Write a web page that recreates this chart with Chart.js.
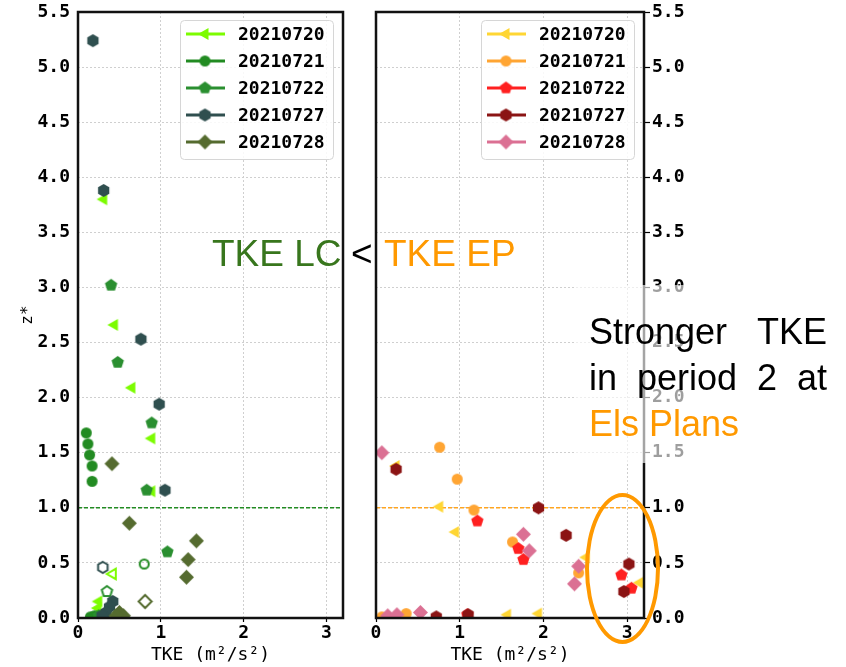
<!DOCTYPE html>
<html>
<head>
<meta charset="utf-8">
<script src="https://cdn.jsdelivr.net/npm/chart.js@4"></script>
<style>
  body { margin:0; background:#fff; width:846px; height:667px; position:relative; overflow:hidden; }
  canvas { position:absolute; top:0; }
  #left { left:0; }
  #right { left:360px; }
  .note { position:absolute; font-family:"Liberation Sans", Arial, sans-serif; white-space:nowrap; line-height:1; }
  .blk { position:absolute; font-family:"Liberation Sans", Arial, sans-serif; font-size:36px; line-height:46px; left:589px; width:238px; white-space:nowrap; }
  .just { text-align:justify; text-align-last:justify; white-space:normal; }
</style>
</head>
<body>
<canvas id="left" width="350" height="667"></canvas>
<canvas id="right" width="340" height="667"></canvas>

<div style="position:absolute;left:575px;top:285px;width:271px;height:178px;background:rgba(255,255,255,0.62)"></div>
<div class="note" style="left:212px;top:235px;font-size:37px;color:#38761D">TKE LC</div>
<div class="note" style="left:351px;top:235px;font-size:37px;color:#000">&lt;</div>
<div class="note" style="left:384px;top:235px;font-size:37px;color:#FF9900">TKE EP</div>
<div class="blk just" style="top:309px;color:#000">Stronger TKE</div>
<div class="blk just" style="top:355px;color:#000">in period 2 at</div>
<div class="blk" style="top:401px;color:#FF9900">Els Plans</div>
<div style="position:absolute;left:585px;top:493px;width:75px;height:151px;box-sizing:border-box;border:4px solid #FF9900;border-radius:50%"></div>

<script>
// ---- data: TKE (m2/s2) vs z*, La Cendrosa (left) and Els Plans (right) ----
const dates = ['20210720', '20210721', '20210722', '20210727', '20210728'];
const xTicks = [0, 1, 2, 3];
const yTicks = [0, 0.5, 1, 1.5, 2, 2.5, 3, 3.5, 4, 4.5, 5, 5.5];
const refLevel = 1.0;

// left panel (LC), open = index of hollow marker
const lc20x = [0.31, 0.44, 0.65, 0.89, 0.89, 0.42, 0.25, 0.24];
const lc20y = [3.80, 2.66, 2.09, 1.63, 1.15, 0.40, 0.15, 0.09];
const lc21x = [0.10, 0.12, 0.14, 0.17, 0.17, 0.80, 0.20, 0.15];
const lc21y = [1.68, 1.58, 1.48, 1.38, 1.24, 0.49, 0.02, 0.01];
const lc22x = [0.40, 0.48, 0.89, 0.83, 1.08, 0.35, 0.25];
const lc22y = [3.02, 2.32, 1.77, 1.16, 0.60, 0.24, 0.02];
const lc27x = [0.18, 0.31, 0.76, 0.98, 1.05, 0.30, 0.42, 0.38, 0.34, 0.29];
const lc27y = [5.24, 3.88, 2.53, 1.94, 1.16, 0.46, 0.15, 0.10, 0.05, 0.02];
const lc28x = [0.41, 0.62, 1.43, 1.33, 1.31, 0.81, 0.50, 0.55, 0.46];
const lc28y = [1.40, 0.86, 0.70, 0.53, 0.37, 0.15, 0.05, 0.02, 0.02];
const lcOpen = [5, 5, 5, 5, 5];

// right panel (EP)
const ep20x = [0.24, 0.76, 0.95, 2.51, 3.15, 1.57, 1.94];
const ep20y = [1.38, 1.01, 0.78, 0.55, 0.32, 0.03, 0.04];
const ep21x = [0.76, 0.97, 1.17, 1.63, 2.42, 0.07, 0.36];
const ep21y = [1.55, 1.26, 0.98, 0.69, 0.41, 0.01, 0.04];
const ep22x = [1.21, 1.70, 1.76, 2.93, 3.05, 1.09];
const ep22y = [0.88, 0.63, 0.53, 0.39, 0.27, 0.03];
const ep27x = [0.24, 1.94, 2.27, 3.02, 2.96, 0.72, 1.10];
const ep27y = [1.35, 1.00, 0.75, 0.49, 0.24, 0.01, 0.03];
const ep28x = [0.07, 1.76, 1.83, 2.42, 2.37, 0.14, 0.25, 0.53];
const ep28y = [1.50, 0.76, 0.61, 0.47, 0.31, 0.02, 0.03, 0.05];

const shapes = ['tri', 'circle', 'pent', 'hex', 'diam'];
const lcColors = ['#7CFC00', '#228B22', '#2A8F30', '#2F4F4F', '#556B2F'];
const epColors = ['#FFD633', '#FFA533', '#FF2020', '#8B1414', '#DB7093'];

const FONT = '"DejaVu Sans Mono", monospace';

// matplotlib-like marker drawn once into a small canvas
function marker(shape, color, open) {
  let r = { tri: 7, circle: 5.5, pent: 6.5, hex: 6.5, diam: 7.5 }[shape];
  if (open) r -= 1;
  const s = Math.ceil(r * 2 + 4);
  const c = document.createElement('canvas');
  c.width = c.height = s;
  const g = c.getContext('2d');
  g.translate(s / 2, s / 2);
  g.beginPath();
  if (shape === 'circle') {
    g.arc(0, 0, r, 0, Math.PI * 2);
  } else {
    const n = { tri: 3, pent: 5, hex: 6, diam: 4 }[shape];
    const a0 = shape === 'tri' ? Math.PI : -Math.PI / 2;
    for (let i = 0; i < n; i++) {
      const a = a0 + i * 2 * Math.PI / n;
      g.lineTo(r * Math.cos(a), r * Math.sin(a));
    }
    g.closePath();
  }
  if (open) { g.lineWidth = 2; g.strokeStyle = color; g.stroke(); }
  else { g.fillStyle = color; g.fill(); }
  return c;
}

function series(i, xs, ys, colors, open) {
  const full = marker(shapes[i], colors[i], false);
  const hollow = marker(shapes[i], colors[i], true);
  return {
    label: dates[i],
    data: xs.map((x, k) => ({ x, y: ys[k] })),
    pointStyle: xs.map((_, k) => k === open ? hollow : full),
    pointRadius: 6,
    showLine: false,
    order: 5 - i,
    clip: 0,
    _color: colors[i],
    _legend: full
  };
}

function refLine(color) {
  return {
    type: 'line', _ref: true,
    data: [{ x: 0, y: refLevel }, { x: 3.2, y: refLevel }],
    borderColor: color, borderWidth: 1.5, borderDash: [4, 2],
    pointRadius: 0, order: 10, clip: 0
  };
}

const frame = {
  id: 'frame',
  afterDatasetsDraw(chart) {
    const a = chart.chartArea, ctx = chart.ctx;
    ctx.save();
    ctx.strokeStyle = '#111';
    ctx.lineWidth = 2.5;
    ctx.strokeRect(a.left, a.top, a.right - a.left, a.bottom - a.top);
    ctx.restore();
  }
};

const legendBox = {
  id: 'legendBox',
  afterDraw(chart) {
    const ctx = chart.ctx, a = chart.chartArea;
    const sets = chart.data.datasets.filter(d => !d._ref);
    const w = 153, h = 139;
    const x = a.right - 10 - w, y = a.top + 8;
    ctx.save();
    ctx.fillStyle = 'rgba(255,255,255,0.85)';
    ctx.strokeStyle = '#d6d6d6';
    ctx.lineWidth = 1;
    ctx.beginPath();
    ctx.roundRect(x + 0.5, y + 0.5, w, h, 4);
    ctx.fill(); ctx.stroke();
    ctx.font = 'bold 18px ' + FONT;
    ctx.textBaseline = 'middle';
    sets.forEach((d, i) => {
      const cy = y + 14 + i * 27;
      ctx.strokeStyle = d._color;
      ctx.lineWidth = 3;
      ctx.beginPath(); ctx.moveTo(x + 6, cy); ctx.lineTo(x + 45, cy); ctx.stroke();
      const m = d._legend;
      ctx.drawImage(m, x + 25 - m.width / 2, cy - m.height / 2);
      ctx.fillStyle = '#000';
      ctx.fillText(d.label, x + 58, cy + 1);
    });
    ctx.restore();
  }
};

function scales(side) {
  const isLeft = side === 'left';
  return {
    x: {
      type: 'linear', min: 0, max: 3.2,
      afterBuildTicks: s => { s.ticks = xTicks.map(v => ({ value: v })); },
      afterFit: s => { s.height = 49; s.paddingLeft = 0; s.paddingRight = 0; },
      border: { display: false, dash: [2, 2] },
      grid: { color: '#cfcfcf', lineWidth: 1, drawTicks: true, tickLength: 4, tickColor: '#000', tickBorderDash: [], tickWidth: 1.2 },
      ticks: { color: '#000', padding: 1, font: { family: FONT, size: 18, weight: 'bold' } },
      title: { display: true, text: 'TKE (m²/s²)', color: '#000', padding: { top: 0, bottom: 1 }, font: { family: FONT, size: 18 } }
    },
    y: {
      type: 'linear', min: 0, max: 5.5, position: side,
      afterBuildTicks: s => { s.ticks = yTicks.map(v => ({ value: v })); },
      afterFit: s => { s.width = isLeft ? 78 : 56; s.paddingTop = 0; s.paddingBottom = 0; },
      border: { display: false, dash: [2, 2] },
      grid: { color: '#cfcfcf', lineWidth: 1, drawTicks: !isLeft, tickLength: 6, tickColor: '#000', tickBorderDash: [], tickWidth: 1.2 },
      ticks: {
        color: '#000', padding: isLeft ? 8 : 2,
        font: { family: FONT, size: 18, weight: 'bold' },
        callback: v => v.toFixed(1)
      },
      title: { display: isLeft, text: 'z*', color: '#000', padding: { top: 18, bottom: 0 }, font: { family: FONT, size: 16 } }
    }
  };
}

function makeChart(id, sets, color, side, padding) {
  return new Chart(document.getElementById(id), {
    type: 'scatter',
    data: { datasets: [...sets, refLine(color)] },
    options: {
      responsive: false, animation: false, events: [],
      layout: { padding },
      plugins: { legend: { display: false }, tooltip: { enabled: false } },
      scales: scales(side)
    },
    plugins: [frame, legendBox]
  });
}

makeChart('left', [
  series(0, lc20x, lc20y, lcColors, lcOpen[0]),
  series(1, lc21x, lc21y, lcColors, lcOpen[1]),
  series(2, lc22x, lc22y, lcColors, lcOpen[2]),
  series(3, lc27x, lc27y, lcColors, lcOpen[3]),
  series(4, lc28x, lc28y, lcColors, lcOpen[4])
], '#228B22', 'left', { top: 12, right: 5, left: 0, bottom: 0 });

makeChart('right', [
  series(0, ep20x, ep20y, epColors, -1),
  series(1, ep21x, ep21y, epColors, -1),
  series(2, ep22x, ep22y, epColors, -1),
  series(3, ep27x, ep27y, epColors, -1),
  series(4, ep28x, ep28y, epColors, -1)
], '#FFA520', 'right', { top: 12, right: 0, left: 16, bottom: 0 });
</script>
</body>
</html>
